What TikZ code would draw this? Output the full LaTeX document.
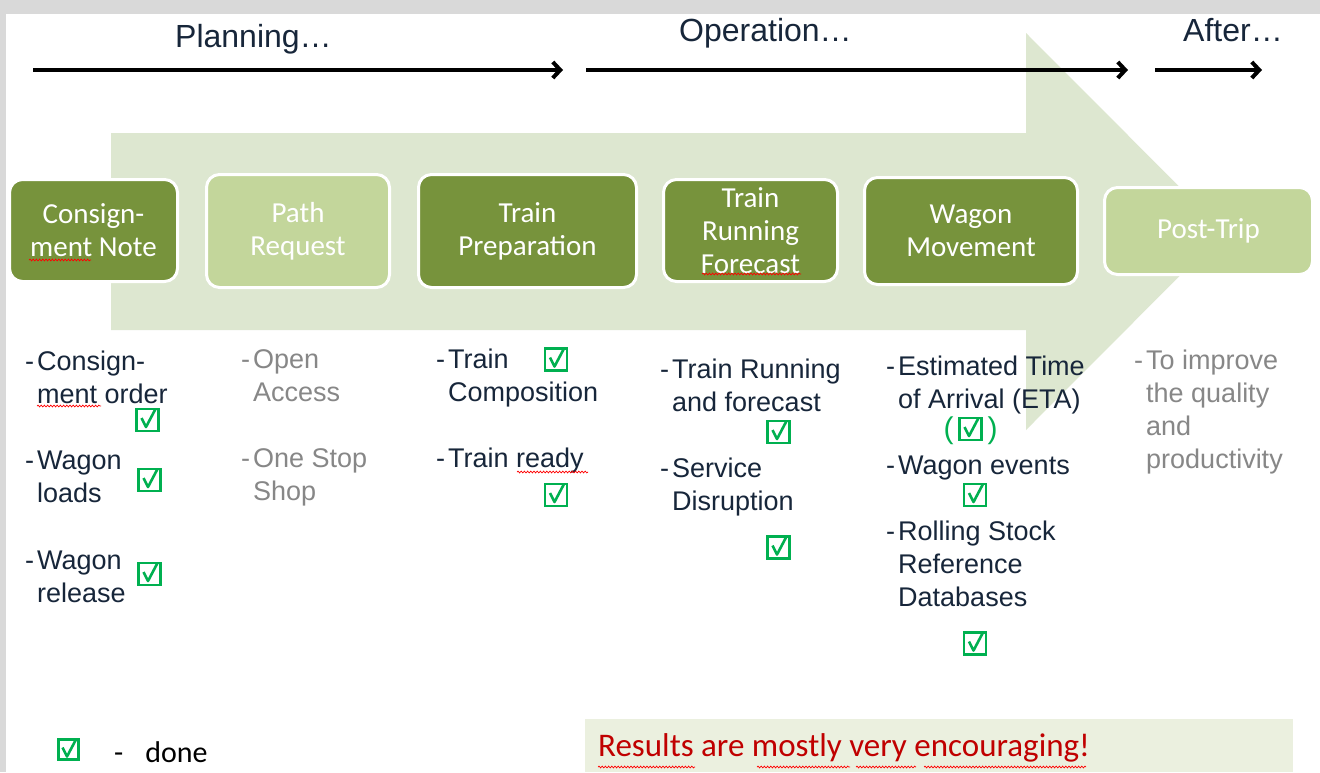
\documentclass[tikz,border=0pt]{standalone}
\usepackage{fontspec}
\setmainfont{Liberation Sans}
\newfontfamily\calibri{Carlito}
\usetikzlibrary{arrows.meta,decorations.pathmorphing}
\definecolor{navy}{HTML}{17263A}
\definecolor{dkgreen}{HTML}{77933C}
\definecolor{ltgreen}{HTML}{C3D69B}
\definecolor{palegreen}{HTML}{DDE7D0}
\definecolor{resbg}{HTML}{EBF0DF}
\definecolor{ckgreen}{HTML}{00B050}
\definecolor{txtgray}{HTML}{878787}
\definecolor{framegray}{HTML}{D9D9D9}
\definecolor{resred}{HTML}{C00000}
\newcommand\mlines[1]{\begin{tabular}[t]{@{}l@{}}#1\end{tabular}}
\newcommand\bdash{\llap{-\hspace{3pt}}}
\begin{document}
\begin{tikzpicture}[x=1pt,y=-1pt,
  stagebase/.style={rounded corners=13pt, draw=white, line width=3pt, text=white,
    align=center, font=\calibri\fontsize{29}{33}\selectfont, inner sep=0pt},
  stagedark/.style={stagebase, fill=dkgreen},
  stagelight/.style={stagebase, fill=ltgreen},
  phase/.style={font=\fontsize{32}{38}\selectfont, text=navy, anchor=base west, inner sep=0pt},
  item/.style={font=\fontsize{27}{33}\selectfont, text=navy, anchor=base west, inner sep=0pt},
  grayitem/.style={item, text=txtgray},
  timeline/.style={line width=4pt, -{Straight Barb[length=7.5pt,width=16pt]}},
  chk/.style={draw=ckgreen, line width=2.4pt, minimum size=22pt, inner sep=0pt,
    path picture={\draw[ckgreen, line width=2.6pt, line join=round]
      ([shift={(-6pt,2pt)}]path picture bounding box.center) --
      ([shift={(-1.5pt,-7pt)}]path picture bounding box.center) --
      ([shift={(8pt,11pt)}]path picture bounding box.center);}},
  squig/.style={draw=red, line width=0.7pt, decorate,
    decoration={snake, amplitude=0.9pt, segment length=3.2pt}}
]
\useasboundingbox (0,0) rectangle (1320,772);
\fill[white] (0,0) rectangle (1320,772);
% window frame
\fill[framegray] (0,0) rectangle (1320,14);
\fill[framegray] (0,0) rectangle (6,772);
% big process arrow
\fill[palegreen] (111,133) -- (1026,133) -- (1026,33) -- (1224,231.5) -- (1026,430)
  -- (1026,330) -- (111,330) -- cycle;
% results box
\fill[resbg] (585,719) rectangle (1293,772);
% stages
\node[stagedark, minimum width=168pt, minimum height=102pt] (s1) at (93.5,230.5) {Consign-\\ment Note};
\node[stagelight, minimum width=183pt, minimum height=113pt] (s2) at (298,231) {Path\\Request};
\node[stagedark, minimum width=218pt, minimum height=113pt] (s3) at (527.5,231) {Train\\Preparation};
\node[stagedark, minimum width=174pt, minimum height=102pt] (s4) at (750.5,230.5) {Train\\Running\\Forecast};
\node[stagedark, minimum width=213pt, minimum height=107pt] (s5) at (971,231) {Wagon\\Movement};
\node[stagelight, minimum width=208pt, minimum height=87pt] (s6) at (1208.5,231) {Post-Trip};
% timeline
\coordinate (t1a) at (33,70);   \coordinate (t1b) at (563,70);
\coordinate (t2a) at (586,70);  \coordinate (t2b) at (1128,70);
\coordinate (t3a) at (1155,70); \coordinate (t3b) at (1262,70);
\draw[timeline] (t1a) -- (t1b);
\draw[timeline] (t2a) -- (t2b);
\draw[timeline] (t3a) -- (t3b);
\node[phase] (ph1) at (175,47) {Planning…};
\node[phase] (ph2) at (679,41) {Operation…};
\node[phase] (ph3) at (1183,41) {After…};
% column 1
\node[item] (a1) at (37,370) {\bdash\mlines{Consign-\\ment order}};
\node[item] (a2) at (37,469) {\bdash\mlines{Wagon\\loads}};
\node[item] (a3) at (37,569) {\bdash\mlines{Wagon\\release}};
\node[chk] (ca1) at (147.5,420) {};
\node[chk] (ca2) at (149.5,480) {};
\node[chk] (ca3) at (149.5,574) {};
% column 2
\node[grayitem] (b1) at (253,368) {\bdash\mlines{Open\\Access}};
\node[grayitem] (b2) at (253,467) {\bdash\mlines{One Stop\\Shop}};
% column 3
\node[item] (c1) at (448,368) {\bdash\mlines{Train\\Composition}};
\node[item] (c2) at (448,467) {\bdash\mlines{Train ready}};
\node[chk] (cc1) at (556,359.5) {};
\node[chk] (cc2) at (556,495) {};
% column 4
\node[item] (d1) at (672,378) {\bdash\mlines{Train Running\\and forecast}};
\node[item] (d2) at (672,477) {\bdash\mlines{Service\\Disruption}};
\node[chk] (cd1) at (778.5,432) {};
\node[chk] (cd2) at (778.5,547.5) {};
% column 5
\node[item] (e1) at (898,375) {\bdash\mlines{Estimated Time\\of Arrival (ETA)}};
\node[item] (e2) at (898,474) {\bdash\mlines{Wagon events}};
\node[item] (e3) at (898,540) {\bdash\mlines{Rolling Stock\\Reference\\Databases}};
\node[font=\fontsize{30}{36}\selectfont, text=ckgreen, inner sep=0pt] (ep) at (970.5,431) {(\hspace{34pt})};
\node[chk] (ce1) at (970.5,429) {};
\node[chk] (ce2) at (975,495) {};
\node[chk] (ce3) at (975,643.5) {};
% column 6
\node[grayitem] (f1) at (1146,369) {\bdash\mlines{To improve\\the quality\\and\\productivity}};
% legend
\node[chk, minimum size=20pt] (leg) at (68.5,749.5) {};
\node[font=\calibri\fontsize{30}{36}\selectfont, anchor=base west, inner sep=0pt] (legt) at (114,762) {-\hspace{22pt}done};
% results
\node[font=\calibri\fontsize{33}{38}\selectfont, text=resred, anchor=base west, inner sep=0pt] (res) at (598,756) {Results are mostly very encouraging!};
% spell-check squiggles
\draw[squig] (29,260) -- (91,260);
\draw[squig] (702,274) -- (801,274);
\draw[squig] (37,406) -- (101,406);
\draw[squig] (517,472) -- (588,472);
\draw[squig] (598,767) -- (695,767);
\draw[squig] (757,767) -- (850,767);
\draw[squig] (856,767) -- (916,767);
\draw[squig] (924,767) -- (1086,767);
\end{tikzpicture}
\end{document}
